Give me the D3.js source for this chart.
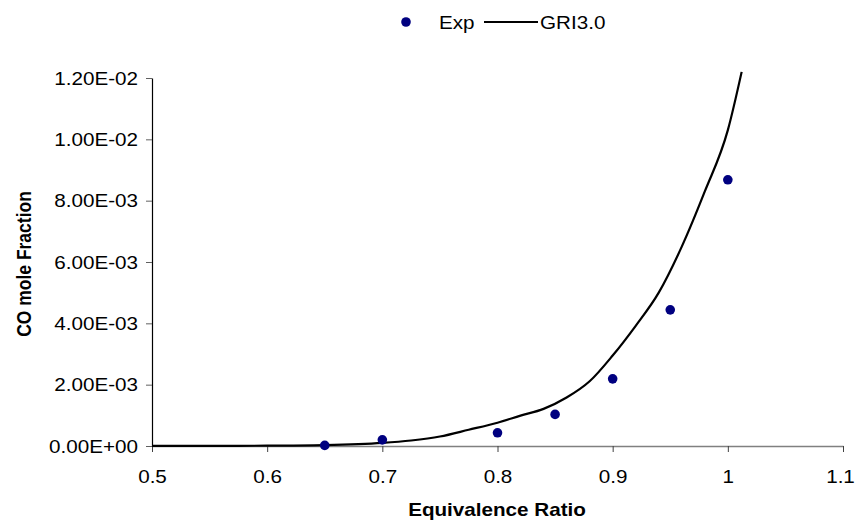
<!DOCTYPE html>
<html><head><meta charset="utf-8">
<script src="https://cdn.jsdelivr.net/npm/d3@7"></script>
<style>body{margin:0;background:#fff}svg{display:block}text{font-family:"Liberation Sans",Arial,sans-serif}</style>
</head><body>
<svg id="c" width="856" height="524"></svg>
<script>
const expX = [0.65, 0.7, 0.8, 0.85, 0.9, 0.95, 1.0];
const expY = [0.00002, 0.0002, 0.00043, 0.00103, 0.00219, 0.00444, 0.00868];
const griX = [0.5, 0.55, 0.6, 0.65, 0.7, 0.725, 0.75, 0.775, 0.8, 0.82, 0.84, 0.86, 0.88, 0.9, 0.92, 0.94, 0.96, 0.98, 1.0, 1.012];
const griY = [0.000002, 0.000005, 0.00001, 0.00003, 0.0001, 0.00018, 0.00031, 0.00053, 0.00076, 0.00099, 0.00121, 0.00158, 0.00211, 0.00295, 0.00392, 0.005, 0.0065, 0.0083, 0.0103, 0.0122];
const xTicks = [0.5, 0.6, 0.7, 0.8, 0.9, 1, 1.1];
const yTicks = [0, 0.002, 0.004, 0.006, 0.008, 0.01, 0.012];
const yTickLabels = ["0.00E+00","2.00E-03","4.00E-03","6.00E-03","8.00E-03","1.00E-02","1.20E-02"];

const SX = 1.18, FS = 17.5;
const svg = d3.select("#c");
const x = d3.scaleLinear().domain([0.5, 1.1]).range([152, 843]);
const y = d3.scaleLinear().domain([0, 0.012]).range([446, 78]);

// x axis
const gx = svg.append("g").attr("transform", "translate(0,446)")
  .call(d3.axisBottom(x).tickValues(xTicks).tickSize(6).tickSizeOuter(0)
    .tickFormat(d => d3.format("")(d)));
gx.select(".domain").attr("stroke", "#808080").attr("stroke-width", 1.5);
gx.selectAll(".tick line").attr("stroke", "#404040");
gx.selectAll("text").attr("font-size", FS).attr("fill", "#000")
  .attr("y", 0).attr("dy", null)
  .attr("transform", (d, i) => `translate(${i === xTicks.length - 1 ? -3 : 0},37) scale(${SX},1)`);

// y axis
const gy = svg.append("g").attr("transform", "translate(152,0)")
  .call(d3.axisLeft(y).tickValues(yTicks).tickSize(6).tickSizeOuter(0)
    .tickFormat((d, i) => yTickLabels[i]));
gy.select(".domain").attr("stroke", "#000").attr("stroke-width", 1.2);
gy.selectAll(".tick line").attr("stroke", "#606060");
gy.selectAll("text").attr("font-size", FS).attr("fill", "#000")
  .attr("x", 0).attr("dy", null).attr("y", 0).attr("transform", `translate(-14,6) scale(${SX},1)`);

// line
const lineData = griX.map((v, i) => [v, griY[i]]);
svg.append("path").datum(lineData)
  .attr("fill", "none").attr("stroke", "#000").attr("stroke-width", 2.2)
  .attr("d", d3.line().x(d => x(d[0])).y(d => y(d[1])).curve(d3.curveMonotoneX));

// points
svg.append("g").selectAll("circle").data(expX.map((v, i) => [v, expY[i]])).join("circle")
  .attr("cx", d => x(d[0])).attr("cy", d => y(d[1])).attr("r", 4.8).attr("fill", "#000080");

// axis titles
svg.append("text").attr("transform", `translate(497,516) scale(${SX},1)`).attr("text-anchor", "middle")
  .attr("font-size", FS).attr("font-weight", "bold").text("Equivalence Ratio");
svg.append("text").attr("transform", `translate(31,264) scale(${SX},1) rotate(-90)`).attr("text-anchor", "middle")
  .attr("font-size", FS).attr("font-weight", "bold").text("CO mole Fraction");

// legend
const lg = svg.append("g");
lg.append("circle").attr("cx", 406).attr("cy", 22).attr("r", 4.8).attr("fill", "#000080");
lg.append("text").attr("transform", `translate(439,29) scale(${SX},1)`).attr("font-size", FS).text("Exp");
lg.append("line").attr("x1", 484).attr("x2", 538).attr("y1", 22).attr("y2", 22).attr("stroke", "#000").attr("stroke-width", 2.2);
lg.append("text").attr("transform", `translate(540,29) scale(${SX},1)`).attr("font-size", FS).text("GRI3.0");
</script>
</body></html>
